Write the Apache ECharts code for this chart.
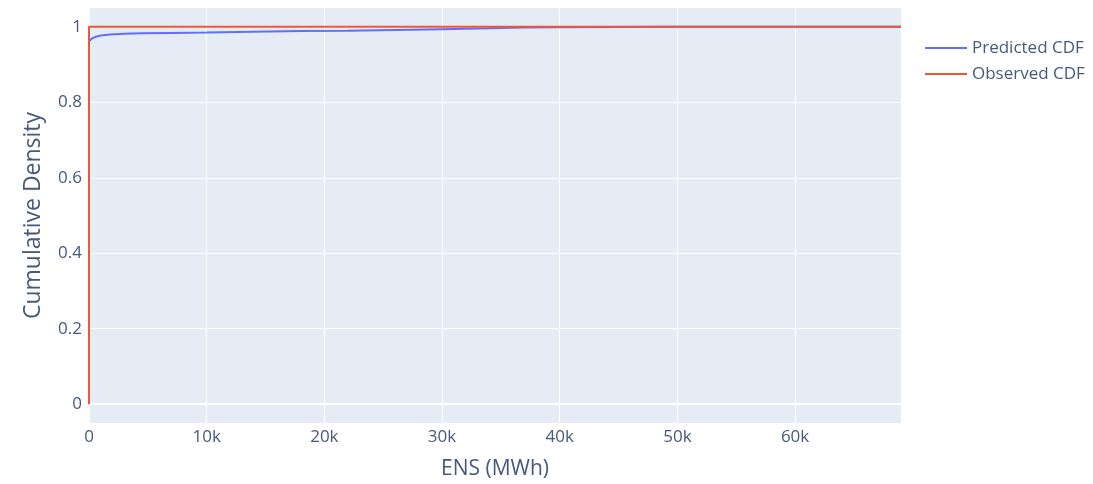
<!DOCTYPE html>
<html>
<head>
<meta charset="utf-8">
<script src="https://cdn.jsdelivr.net/npm/echarts@6/dist/echarts.min.js"></script>
<style>html,body{margin:0;padding:0;background:#fff;}#c{width:1093px;height:484px;}</style>
</head>
<body>
<div id="c"></div>
<script>
var predX = [0, 200, 500, 1000, 1800, 3000, 4500, 7000, 10000, 14000, 18000, 22000, 26000, 30000, 34000, 37000, 40000, 50000, 60000, 69000];
var predY = [0.962, 0.968, 0.973, 0.977, 0.980, 0.982, 0.983, 0.984, 0.985, 0.987, 0.989, 0.990, 0.992, 0.994, 0.996, 0.998, 0.999, 1, 1, 1];
var obsX = [0, 0, 69000];
var obsY = [0, 1, 1];
var xTicks = [0, 10000, 20000, 30000, 40000, 50000, 60000];
var yTicks = [0, 0.2, 0.4, 0.6, 0.8, 1];

function zip(a, b) { return a.map(function (v, i) { return [v, b[i]]; }); }
var font = '"Open Sans", "Noto Sans", sans-serif';
var txt = '#465a7c';
var chart = echarts.init(document.getElementById('c'));
chart.setOption({
  animation: false,
  backgroundColor: '#ffffff',
  textStyle: { fontFamily: font },
  grid: { left: 89, right: 192, top: 8, bottom: 61, backgroundColor: '#E5ECF6', show: true, borderWidth: 0,
    outerBoundsMode: 'none', containLabel: false },
  legend: {
    orient: 'vertical', left: 920, top: 33, itemWidth: 42, itemHeight: 2, itemGap: 6,
    icon: 'rect',
    textStyle: { fontSize: 17, lineHeight: 20, color: txt, fontFamily: font },
    data: ['Predicted CDF', 'Observed CDF']
  },
  xAxis: {
    type: 'value', min: 0, max: 69000,
    name: 'ENS (MWh)', nameLocation: 'middle', nameGap: 36,
    nameTextStyle: { fontSize: 21, color: txt, fontFamily: font },
    axisLine: { show: false }, axisTick: { show: false, customValues: xTicks },
    axisLabel: { customValues: xTicks, fontSize: 17, color: txt, margin: 6, fontFamily: font,
      formatter: function (v) { return v === 0 ? '0' : (v / 1000) + 'k'; } },
    splitLine: { show: true, customValues: xTicks, lineStyle: { color: '#ffffff', width: 1 } }
  },
  yAxis: {
    type: 'value', min: -0.05, max: 1.05,
    name: 'Cumulative Density', nameLocation: 'middle', nameGap: 44,
    nameTextStyle: { fontSize: 23, color: txt, fontFamily: font },
    axisLine: { show: false }, axisTick: { show: false, customValues: yTicks },
    axisLabel: { customValues: yTicks, fontSize: 17, color: txt, margin: 7, fontFamily: font,
      formatter: function (v) { return String(Math.round(v * 10) / 10); } },
    splitLine: { show: true, customValues: yTicks, lineStyle: { color: '#ffffff', width: 1 } }
  },
  series: [
    { name: 'Predicted CDF', type: 'line', data: zip(predX, predY), symbol: 'none',
      lineStyle: { color: '#636EFA', width: 2 }, itemStyle: { color: '#636EFA' } },
    { name: 'Observed CDF', type: 'line', data: zip(obsX, obsY), symbol: 'none',
      lineStyle: { color: '#EF553B', width: 2 }, itemStyle: { color: '#EF553B' },
      markLine: { silent: true, symbol: 'none', label: { show: false }, z: 1,
        lineStyle: { color: '#ffffff', width: 2, type: 'solid' },
        data: [{ yAxis: 0 }] } }
  ]
});
</script>
</body>
</html>
